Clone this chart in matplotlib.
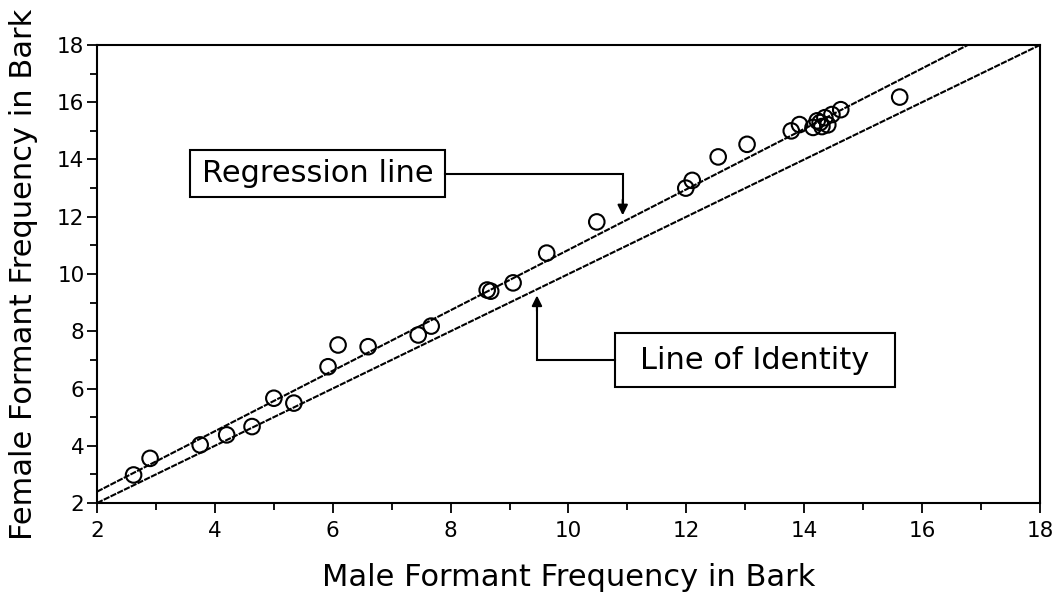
import matplotlib
matplotlib.use("Agg")
import matplotlib.pyplot as plt
from matplotlib.patches import Rectangle
from matplotlib.ticker import MultipleLocator
import numpy as np

# Formant frequencies (Bark): male speaker vs female speaker
male = [2.62, 2.90, 3.75, 4.20, 4.63, 5.00, 5.34, 5.92, 6.09, 6.60,
        7.45, 7.67, 8.62, 8.68, 9.06, 9.63, 10.48, 11.99, 12.10, 12.54,
        13.03, 13.78, 13.92, 14.15, 14.22, 14.27, 14.30, 14.35, 14.40,
        14.47, 14.62, 15.62]
female = [2.98, 3.56, 4.03, 4.38, 4.67, 5.66, 5.49, 6.76, 7.52, 7.46,
          7.87, 8.18, 9.44, 9.40, 9.69, 10.73, 11.82, 13.00, 13.27, 14.09,
          14.53, 15.00, 15.22, 15.12, 15.35, 15.29, 15.15, 15.46, 15.21,
          15.57, 15.74, 16.18]

# Fitted regression line: female = intercept + slope * male
reg_slope = 1.056
reg_intercept = 0.285

x_ticks = [2, 4, 6, 8, 10, 12, 14, 16, 18]
y_ticks = [2, 4, 6, 8, 10, 12, 14, 16, 18]

fig = plt.figure(figsize=(10.56, 5.95), dpi=100)
ax = fig.add_axes([0.0919, 0.1546, 0.8929, 0.7698])

dash = (0, (3.0, 0.6))
xl = np.array([2.0, 18.0])
ax.plot(xl, xl, color="black", lw=1.5, linestyle=dash)
xr = np.array([2.0, (18.0 - reg_intercept) / reg_slope])
ax.plot(xr, reg_intercept + reg_slope * xr, color="black", lw=1.5, linestyle=dash)

ax.scatter(male, female, s=125, facecolors="none", edgecolors="black",
           linewidths=1.5, zorder=3)

ax.set_xlim(2, 18)
ax.set_ylim(2, 18)
ax.set_xticks(x_ticks)
ax.set_yticks(y_ticks)
ax.xaxis.set_minor_locator(MultipleLocator(1))
ax.yaxis.set_minor_locator(MultipleLocator(1))
ax.tick_params(which="major", direction="out", length=7, width=1.3,
               labelsize=15.5, top=False, right=False)
ax.tick_params(axis="x", which="major", pad=6)
ax.tick_params(axis="y", which="major", pad=2)
ax.tick_params(which="minor", direction="out", length=5, width=1.3,
               top=False, right=False)
for sp in ax.spines.values():
    sp.set_linewidth(1.5)

ax.set_xlabel("Male Formant Frequency in Bark", fontsize=22, labelpad=16)
ax.set_ylabel("Female Formant Frequency in Bark", fontsize=22, labelpad=14)

# Callout: regression line
ax.add_patch(Rectangle((3.58, 12.69), 7.90 - 3.58, 14.33 - 12.69,
                       facecolor="white", edgecolor="black", lw=1.5, zorder=4))
ax.text((3.58 + 7.90) / 2, 13.51, "Regression line", ha="center", va="center",
        fontsize=22, zorder=5)
ax.plot([7.90, 10.92, 10.92], [13.51, 13.51, 12.45], color="black", lw=1.5,
        zorder=4, solid_joinstyle="miter")
ax.annotate("", xy=(10.92, 12.05), xytext=(10.92, 12.6),
            arrowprops=dict(arrowstyle="-|>,head_length=0.6,head_width=0.3",
                            color="black", lw=1.5, shrinkA=0, shrinkB=0),
            zorder=5)

# Callout: line of identity
ax.add_patch(Rectangle((10.79, 6.05), 15.54 - 10.79, 7.94 - 6.05,
                       facecolor="white", edgecolor="black", lw=1.5, zorder=4))
ax.text((10.79 + 15.54) / 2, 6.99, "Line of Identity", ha="center", va="center",
        fontsize=22, zorder=5)
ax.plot([10.79, 9.465, 9.465], [6.99, 6.99, 8.8], color="black", lw=1.5,
        zorder=4, solid_joinstyle="miter")
ax.annotate("", xy=(9.465, 9.25), xytext=(9.465, 8.7),
            arrowprops=dict(arrowstyle="-|>,head_length=0.6,head_width=0.3",
                            color="black", lw=1.5, shrinkA=0, shrinkB=0),
            zorder=5)

fig.savefig("out.png", dpi=100)
